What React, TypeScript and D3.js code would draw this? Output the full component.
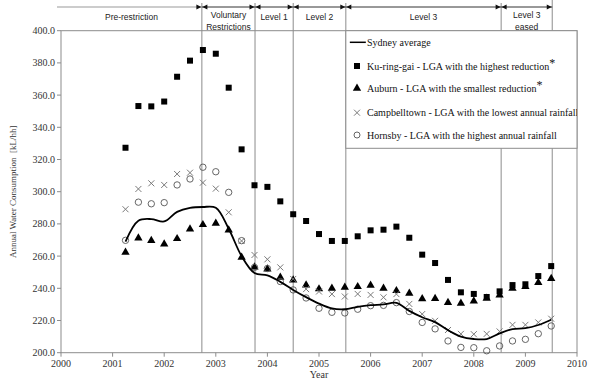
import React from "react";
import * as d3 from "d3";

const quarters = [
  2001.25, 2001.5, 2001.75, 2002.0, 2002.25, 2002.5, 2002.75, 2003.0, 2003.25, 2003.5,
  2003.75, 2004.0, 2004.25, 2004.5, 2004.75, 2005.0, 2005.25, 2005.5, 2005.75, 2006.0,
  2006.25, 2006.5, 2006.75, 2007.0, 2007.25, 2007.5, 2007.75, 2008.0, 2008.25, 2008.5,
  2008.75, 2009.0, 2009.25, 2009.5,
];

const sydney = [
  269, 282, 283, 281.5, 287.5, 290, 290.5, 290, 277, 260,
  249.5, 248, 244, 239, 234.5, 230.5, 227.5, 227, 228.5, 229.5,
  230, 231, 226, 222, 219, 214, 210, 208.5, 208.5, 212,
  214.7, 215.2, 217.2, 220.5,
];

const kuringgai = [
  327.3, 353.2, 353, 356, 371.4, 381.4, 388, 385.7, 364.6, 326.3,
  304, 303, 294, 286, 281.8, 273.7, 269.4, 269.4, 272.3, 276,
  276.4, 278.3, 271.4, 260.9, 255.7, 245.2, 237.5, 236.5, 234.6, 238.1,
  242, 242.5, 247.6, 253.8,
];

const auburn = [
  262.4, 271.2, 269.6, 267.5, 270.8, 276.8, 279.5, 280.4, 276.2, 259.3,
  253.2, 252, 246.8, 245.1, 242, 239.6, 240, 240.6, 241, 241.8,
  240, 238.5, 236.9, 233.5, 233.6, 231.1, 230.7, 232.1, 233.8, 235.8,
  240, 241, 243.5, 246,
];

const campbelltown = [
  289.1, 301.7, 305.2, 304.2, 311, 311.8, 305.6, 301.9, 287.2, 269.4,
  260.7, 258, 253, 245.8, 239.5, 238, 236.4, 234.9, 236.5, 235.9,
  234.4, 236.4, 230.3, 224, 219.8, 214.1, 211.7, 211.5, 211.7, 213.2,
  217.3, 217.3, 218.8, 221.1,
];

const hornsby = [
  269.8, 293.5, 292.5, 293.2, 304.2, 307.9, 315.2, 312.4, 299.6, 269.6,
  253, 252.3, 244.2, 239, 234, 227.6, 225.1, 224.7, 227, 229.2,
  229.4, 231.1, 225.6, 218.8, 214.8, 207.3, 203.3, 203.1, 201.2, 204.2,
  207.3, 208.3, 211.8, 216.6,
];

const phaseBounds = [2000, 2002.73, 2003.76, 2004.5, 2005.52, 2008.53, 2009.52];
const phaseLabels = [
  ["Pre-restriction"],
  ["Voluntary", "Restrictions"],
  ["Level 1"],
  ["Level 2"],
  ["Level 3"],
  ["Level 3", "eased"],
];

const xTicks = [2000, 2001, 2002, 2003, 2004, 2005, 2006, 2007, 2008, 2009, 2010];
const yTicks = [200, 220, 240, 260, 280, 300, 320, 340, 360, 380, 400];

const legendLabels = [
  "Sydney average",
  "Ku-ring-gai - LGA with the highest reduction",
  "Auburn - LGA with the smallest reduction",
  "Campbelltown - LGA with the lowest annual rainfall",
  "Hornsby - LGA with the highest annual rainfall",
];

const W = 589;
const H = 383;
const L = 61, R = 577, T = 30.7, B = 352.7;
const serif = "Liberation Serif, Tinos, Times New Roman, DejaVu Serif, serif";
const sans = "Liberation Sans, Arial, sans-serif";

export default function App() {
  const x = d3.scaleLinear().domain([2000, 2010]).range([L, R]);
  const y = d3.scaleLinear().domain([200, 400]).range([B, T]);
  const line = d3
    .line<number>()
    .x((_, i) => x(quarters[i]))
    .y((d) => y(d))
    .curve(d3.curveCatmullRom.alpha(0.5));

  const tri = d3.symbol().type(d3.symbolTriangle).size(30)() as string;
  const bannerY = 7;
  const arrow = (px: number, dir: number) =>
    `M${px},${bannerY} L${px - dir * 5},${bannerY - 2.5} L${px - dir * 5},${bannerY + 2.5} Z`;

  const legX = x(phaseBounds[4]);
  const legYs = [42.3, 66, 88.3, 112.7, 135];
  const serifStyle = { fontFamily: serif };
  const sansStyle = { fontFamily: sans };

  return (
    <svg width={W} height={H} style={{ position: "absolute", left: 0, top: 0, background: "#fff" }}>
      <rect x={0} y={0} width={W} height={H} fill="#fff" />
      <rect x={L} y={T} width={R - L} height={B - T} fill="none" stroke="#8c8c8c" strokeWidth={1} />

      {phaseBounds.slice(1).map((p, i) => (
        <line key={"v" + i} x1={x(p)} x2={x(p)} y1={i === 5 ? 0 : 3} y2={B} stroke="#8c8c8c" strokeWidth={1} />
      ))}

      {phaseBounds.slice(0, -1).map((p, i) => {
        const a = x(p);
        const b = x(phaseBounds[i + 1]);
        const a2 = i === 0 ? a - 4 : a;
        return (
          <g key={"b" + i}>
            <line x1={a2} x2={b} y1={bannerY} y2={bannerY} stroke={i === 0 ? "#999" : "#333"} strokeWidth={1} />
            <path d={arrow(b - 0.5, 1)} fill="#111" />
            {i > 0 && <path d={arrow(a + 0.5, -1)} fill="#111" />}
            {phaseLabels[i].map((t, j) => (
              <text
                key={j}
                x={(a + b) / 2}
                y={phaseLabels[i].length === 1 ? 20 : 17.5 + j * 12}
                textAnchor="middle"
                style={sansStyle}
                fontSize={8.5}
                fill="#222"
              >
                {t}
              </text>
            ))}
          </g>
        );
      })}

      {yTicks.map((t) => (
        <g key={"y" + t}>
          <line x1={L - 4} x2={L} y1={y(t)} y2={y(t)} stroke="#8c8c8c" />
          <text x={L - 6} y={y(t) + 3.5} textAnchor="end" style={serifStyle} fontSize={10} fill="#333">
            {t.toFixed(1)}
          </text>
        </g>
      ))}
      {xTicks.map((t) => (
        <g key={"x" + t}>
          <line x1={x(t)} x2={x(t)} y1={B} y2={B + 4} stroke="#8c8c8c" />
          <text x={x(t)} y={B + 14} textAnchor="middle" style={serifStyle} fontSize={10} fill="#333">
            {t}
          </text>
        </g>
      ))}
      <text x={x(2005)} y={378} textAnchor="middle" style={serifStyle} fontSize={10} fill="#333">
        Year
      </text>
      <text
        transform={`translate(16,${(T + B) / 2}) rotate(-90)`}
        textAnchor="middle"
        style={{ ...serifStyle, whiteSpace: "pre" }}
        fontSize={9}
        fill="#333"
      >
        {"Annual Water Consumption  [kL/hh]"}
      </text>

      {kuringgai.map((v, i) => (
        <rect key={"k" + i} x={x(quarters[i]) - 3} y={y(v) - 3} width={6} height={6} fill="#000" />
      ))}
      {auburn.map((v, i) => (
        <path key={"a" + i} d={tri} transform={`translate(${x(quarters[i])},${y(v)})`} fill="#000" />
      ))}
      {campbelltown.map((v, i) => {
        const cx = x(quarters[i]);
        const cy = y(v);
        return (
          <path
            key={"c" + i}
            d={`M${cx - 3},${cy - 3}L${cx + 3},${cy + 3}M${cx - 3},${cy + 3}L${cx + 3},${cy - 3}`}
            stroke="#7a7a7a"
            strokeWidth={1}
          />
        );
      })}
      {hornsby.map((v, i) => (
        <circle key={"h" + i} cx={x(quarters[i])} cy={y(v)} r={3.2} fill="none" stroke="#555" strokeWidth={0.9} />
      ))}
      <path d={line(sydney) as string} fill="none" stroke="#000" strokeWidth={1.8} />

      <rect x={legX} y={T} width={R - legX} height={148.3 - T} fill="#fff" stroke="#8c8c8c" />
      <line x1={legX + 4} x2={legX + 20} y1={legYs[0]} y2={legYs[0]} stroke="#000" strokeWidth={1.5} />
      <rect x={357 - 3} y={legYs[1] - 3} width={6} height={6} fill="#000" />
      <path d={tri} transform={`translate(357,${legYs[2]})`} fill="#000" />
      <path
        d={`M354,${legYs[3] - 3}L360,${legYs[3] + 3}M354,${legYs[3] + 3}L360,${legYs[3] - 3}`}
        stroke="#7a7a7a"
      />
      <circle cx={357} cy={legYs[4]} r={3} fill="none" stroke="#555" strokeWidth={0.9} />
      <clipPath id="legclip">
        <rect x={legX} y={T} width={R - legX} height={148.3 - T} />
      </clipPath>
      <g clipPath="url(#legclip)">
        {legendLabels.map((t, i) => (
          <text key={"l" + i} x={367} y={legYs[i] + 3.5} style={serifStyle} fontSize={10} fill="#111">
            {t}
            {(i === 1 || i === 2) && (
              <tspan dy={-3} fontSize={12}>
                *
              </tspan>
            )}
          </text>
        ))}
      </g>
    </svg>
  );
}
